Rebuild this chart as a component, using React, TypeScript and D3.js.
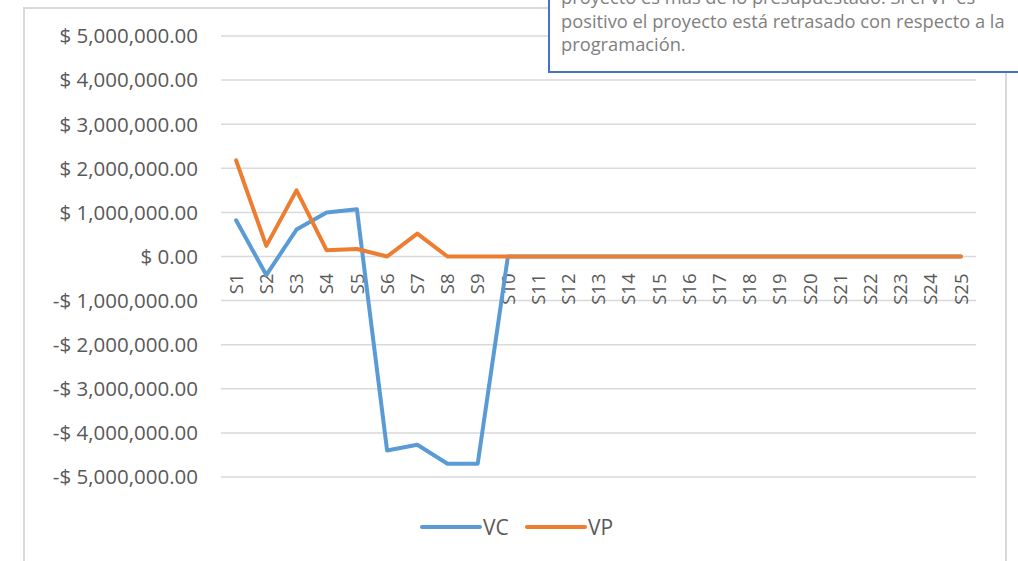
import React from "react";
import * as d3 from "d3";

const categories = Array.from({ length: 25 }, (_, i) => `S${i + 1}`);
const vcValues = [820000, -420000, 610000, 1000000, 1070000, -4400000, -4270000, -4700000, -4700000, 0, 0, 0, 0, 0, 0, 0, 0, 0, 0, 0, 0, 0, 0, 0, 0];
const vpValues = [2180000, 240000, 1500000, 140000, 170000, 0, 520000, 0, 0, 0, 0, 0, 0, 0, 0, 0, 0, 0, 0, 0, 0, 0, 0, 0, 0];
const yTicks = [5000000, 4000000, 3000000, 2000000, 1000000, 0, -1000000, -2000000, -3000000, -4000000, -5000000];
const seriesNames = ["VC", "VP"];
const noteLines = [
  "proyecto es más de lo presupuestado. Si el VP es",
  "positivo el proyecto está retrasado con respecto a la",
  "programación.",
];

const W = 1018;
const H = 561;
const FONT = "'Open Sans', Lato, sans-serif";

export default function App() {
  const x = d3.scaleBand<string>().domain(categories).range([221, 976]);
  const y = d3.scaleLinear().domain([-5000000, 5000000]).range([477, 36]);
  const cx = (c: string) => (x(c) as number) + x.bandwidth() / 2;
  const line = d3
    .line<number>()
    .x((_, i) => cx(categories[i]))
    .y((d) => y(d));
  const fmt = (v: number) => {
    const s = d3.format(",.2f")(Math.abs(v));
    return v < 0 ? `-$ ${s}` : `$ ${s}`;
  };
  const colors = ["#5B9BD5", "#ED7D31"];
  const series = [vcValues, vpValues];

  return (
    <svg
      width={W}
      height={H}
      style={{ position: "absolute", left: 0, top: 0, background: "#fff" }}
      fontFamily={FONT}
    >
      {/* chart frame */}
      <rect x={24} y={8} width={982} height={H + 20} fill="#fff" stroke="#d9d9d9" strokeWidth={2} />
      {/* gridlines */}
      {yTicks.map((t) => (
        <line key={t} x1={221} x2={976} y1={y(t)} y2={y(t)} stroke="#d9d9d9" strokeWidth={1.5} />
      ))}
      {/* y labels */}
      {yTicks.map((t) => (
        <text key={"l" + t} x={198} y={y(t)} dy="0.36em" textAnchor="end" fontSize={20.5} fill="#595959">
          {fmt(t)}
        </text>
      ))}
      {/* x labels */}
      {categories.map((c) => (
        <text
          key={c}
          transform={`translate(${cx(c)},${y(0) + 17}) rotate(-90)`}
          textAnchor="end"
          dy="0.36em"
          fontSize={18.5}
          fill="#595959"
        >
          {c}
        </text>
      ))}
      {/* lines */}
      {series.map((s, i) => (
        <path
          key={i}
          d={line(s) as string}
          fill="none"
          stroke={colors[i]}
          strokeWidth={4}
          strokeLinejoin="round"
          strokeLinecap="round"
        />
      ))}
      {/* legend */}
      {seriesNames.map((n, i) => {
        const lx = 422 + i * 105;
        return (
          <g key={n}>
            <line x1={lx} x2={lx + 58} y1={527} y2={527} stroke={colors[i]} strokeWidth={4} strokeLinecap="round" />
            <text x={lx + 61} y={527} dy="0.36em" fontSize={21} fill="#595959">
              {n}
            </text>
          </g>
        );
      })}
      {/* note box */}
      <rect x={549} y={-10} width={480} height={82} fill="#fff" stroke="#4472C4" strokeWidth={2} />
      {noteLines.map((t, i) => (
        <text key={i} x={561} y={4 + i * 23.5} fontSize={18.3} fill="#808080">
          {t}
        </text>
      ))}
    </svg>
  );
}
